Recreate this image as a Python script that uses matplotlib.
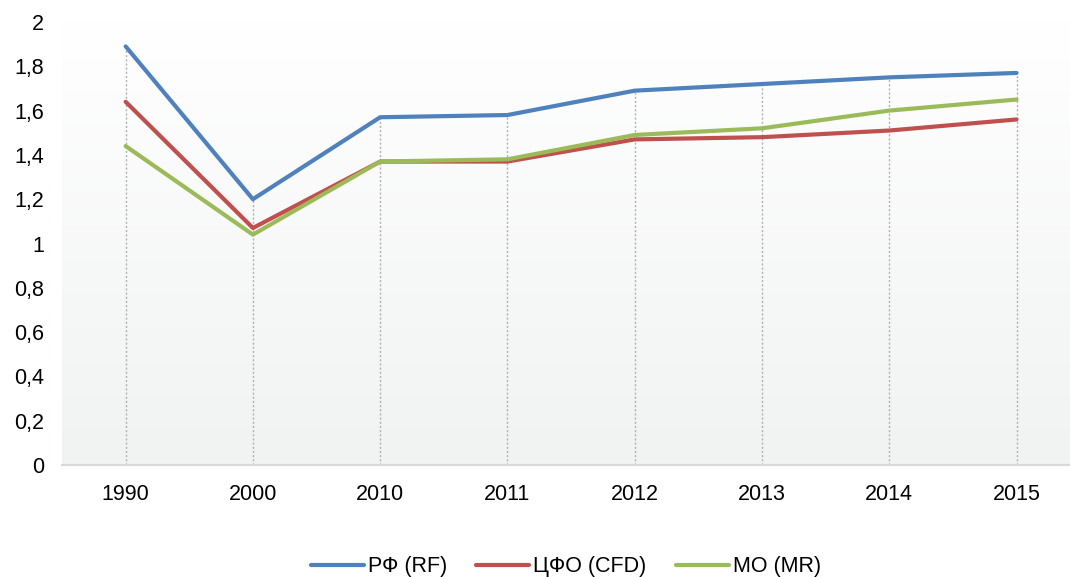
import matplotlib.pyplot as plt
import numpy as np
from matplotlib.ticker import FuncFormatter

years = ["1990", "2000", "2010", "2011", "2012", "2013", "2014", "2015"]
rf = [1.89, 1.20, 1.57, 1.58, 1.69, 1.72, 1.75, 1.77]
cfd = [1.64, 1.07, 1.37, 1.37, 1.47, 1.48, 1.51, 1.56]
mr = [1.44, 1.04, 1.37, 1.38, 1.49, 1.52, 1.60, 1.65]

labels = ["РФ (RF)", "ЦФО (CFD)", "МО (MR)"]
colors = ["#4F81BD", "#C0504D", "#9BBB59"]

plt.rcParams["font.family"] = ["Liberation Sans", "DejaVu Sans"]

fig = plt.figure(figsize=(10.7, 5.77), dpi=100)
ax = fig.add_axes([62 / 1070, 112 / 577, 1 - 62 / 1070, 443 / 577])

x = np.arange(len(years))

# background gradient (white at top, light grey at bottom)
grad = np.linspace(0, 1, 256).reshape(-1, 1)
ax.imshow(grad, cmap=plt.matplotlib.colors.LinearSegmentedColormap.from_list(
    "bg", ["#f1f2f2", "#ffffff"]), aspect="auto", extent=[0, 1, 0, 1],
    transform=ax.transAxes, origin="lower", zorder=0)

# drop lines
tops = np.max([rf, cfd, mr], axis=0)
ax.vlines(x, 0, tops, colors="#b0b0b0", linestyles=(0, (1.5, 1.5)), linewidth=1, zorder=1)

for vals, lab, col in zip([rf, cfd, mr], labels, colors):
    ax.plot(x, vals, color=col, linewidth=3, label=lab, zorder=3,
            solid_capstyle="round", solid_joinstyle="round")


def fmt(v, p):
    if abs(v - round(v)) < 1e-9:
        return str(int(round(v)))
    return f"{v:.1f}".replace(".", ",")


ax.set_xlim(-0.5, 7.42)
ax.set_ylim(0, 2)
ax.set_yticks(np.arange(0, 2.01, 0.2))
ax.yaxis.set_major_formatter(FuncFormatter(fmt))
ax.set_xticks(x)
ax.set_xticklabels(years)

for s in ["top", "right", "left"]:
    ax.spines[s].set_visible(False)
ax.spines["bottom"].set_color("#d9d9d9")
ax.spines["bottom"].set_linewidth(1.5)
ax.tick_params(axis="both", length=0, labelsize=15.5, colors="#000000")
ax.tick_params(axis="y", pad=13)
ax.tick_params(axis="x", pad=14)
ax.set_facecolor("white")

ax.legend(loc="center", bbox_to_anchor=(0.5, -0.23), ncol=3, frameon=False,
          fontsize=15.5, handlelength=2.45, columnspacing=1.35, handletextpad=0.2)

fig.savefig("out.png", dpi=100)
